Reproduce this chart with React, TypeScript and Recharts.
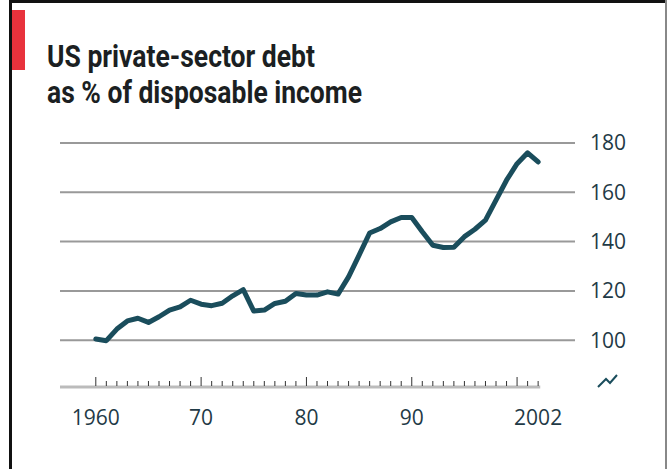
import React from 'react';
import { LineChart, Line, XAxis, YAxis, ReferenceLine } from 'recharts';

// years 1960-2002
const years = [
  1960, 1961, 1962, 1963, 1964, 1965, 1966, 1967, 1968, 1969,
  1970, 1971, 1972, 1973, 1974, 1975, 1976, 1977, 1978, 1979,
  1980, 1981, 1982, 1983, 1984, 1985, 1986, 1987, 1988, 1989,
  1990, 1991, 1992, 1993, 1994, 1995, 1996, 1997, 1998, 1999,
  2000, 2001, 2002,
];

// debt as % of disposable income
const debtPct = [
  100.5, 99.8, 104.5, 107.8, 108.9, 107.2, 109.5, 112.2, 113.5, 116.2,
  114.6, 114.0, 115.0, 118.0, 120.5, 111.8, 112.2, 114.9, 115.8, 118.9,
  118.3, 118.3, 119.6, 118.7, 125.7, 134.5, 143.5, 145.3, 148.0, 149.8,
  149.8, 144.0, 138.5, 137.6, 137.7, 142.0, 145.0, 148.7, 156.8, 164.9,
  171.6, 176.0, 172.3,
];

const yTicks = [100, 120, 140, 160, 180];
const xLabels: Record<number, string> = { 1960: '1960', 1970: '70', 1980: '80', 1990: '90', 2002: '2002' };
const majorYears = [1960, 1970, 1980, 1990, 2000];
const xDomain = [1956.6, 2005.5];
const yDomain = [81, 180];
const axisStart = 1956.6;
const axisEnd = 2002.2;

const data = years.map((year, i) => ({ year, value: debtPct[i] }));

const TEXT = '#1f3a46';
const LINE = '#1a4d5c';

const YearTick = ({ x, y, payload }: any) => {
  const yr = payload.value;
  const major = majorYears.includes(yr);
  return (
    <g>
      <line x1={x} x2={x} y1={y - 1} y2={y - (major ? 10 : 6)} stroke="#333" strokeWidth={1} />
      {xLabels[yr] && (
        <text x={x} y={y + 38} textAnchor="middle" fill={TEXT} fontSize={21} fontFamily="'Open Sans', sans-serif">
          {xLabels[yr]}
        </text>
      )}
    </g>
  );
};

export default function App() {
  return (
    <div style={{ position: 'fixed', left: 0, top: 0, width: 668, height: 469, background: '#fff', overflow: 'hidden' }}>
      {/* frame */}
      <div style={{ position: 'absolute', left: 9, top: 0, width: 658, height: 3, background: '#111' }} />
      <div style={{ position: 'absolute', left: 9, top: 0, width: 3, height: 469, background: '#111' }} />
      <div style={{ position: 'absolute', left: 665, top: 0, width: 2, height: 469, background: '#888' }} />
      <div style={{ position: 'absolute', left: 12, top: 10, width: 13, height: 60, background: '#e8323c' }} />

      <svg width={668} height={130} style={{ position: 'absolute', left: 0, top: 0 }}>
        <text x={47} y={67} fontSize={32} fontWeight={700} fill="#1b1f22"
          fontFamily="'Liberation Sans Narrow', Roboto, sans-serif" textLength={268} lengthAdjust="spacingAndGlyphs">
          US private-sector debt
        </text>
        <text x={47} y={103} fontSize={32} fontWeight={700} fill="#1b1f22"
          fontFamily="'Liberation Sans Narrow', Roboto, sans-serif" textLength={315} lengthAdjust="spacingAndGlyphs">
          as % of disposable income
        </text>
      </svg>

      <div style={{ position: 'absolute', left: 0, top: 0 }}>
        <LineChart width={668} height={469} data={data} margin={{ top: 143, left: 60, right: 33, bottom: 42 }}>
          <XAxis
            dataKey="year"
            type="number"
            domain={xDomain}
            allowDataOverflow
            ticks={years}
            interval={0}
            height={40}
            axisLine={false}
            tickLine={false}
            tickSize={0}
            tickMargin={0}
            tick={<YearTick />}
          />
          <YAxis
            orientation="right"
            type="number"
            domain={yDomain}
            allowDataOverflow
            ticks={yTicks}
            width={60}
            axisLine={false}
            tickLine={false}
            tickSize={0}
            tickMargin={15}
            tick={{ fill: TEXT, fontSize: 21, fontFamily: "'Open Sans', sans-serif" }}
          />
          {/* gridlines at the value ticks only */}
          {yTicks.map((t) => (
            <ReferenceLine key={t} y={t} stroke="#999" strokeWidth={2} />
          ))}
          {/* short x axis baseline, ends at 2002 */}
          <ReferenceLine
            segment={[{ x: axisStart, y: yDomain[0] }, { x: axisEnd, y: yDomain[0] }]}
            stroke="#bbb"
            strokeWidth={3}
          />
          <Line
            type="linear"
            dataKey="value"
            stroke={LINE}
            strokeWidth={5}
            strokeLinejoin="round"
            strokeLinecap="round"
            dot={false}
            isAnimationActive={false}
          />
        </LineChart>
      </div>

      {/* axis break mark */}
      <svg width={668} height={469} style={{ position: 'absolute', left: 0, top: 0, pointerEvents: 'none' }}>
        <path d="M598,387 L606,379 L610,383 L617,375" fill="none" stroke={LINE} strokeWidth={2} />
      </svg>
    </div>
  );
}
